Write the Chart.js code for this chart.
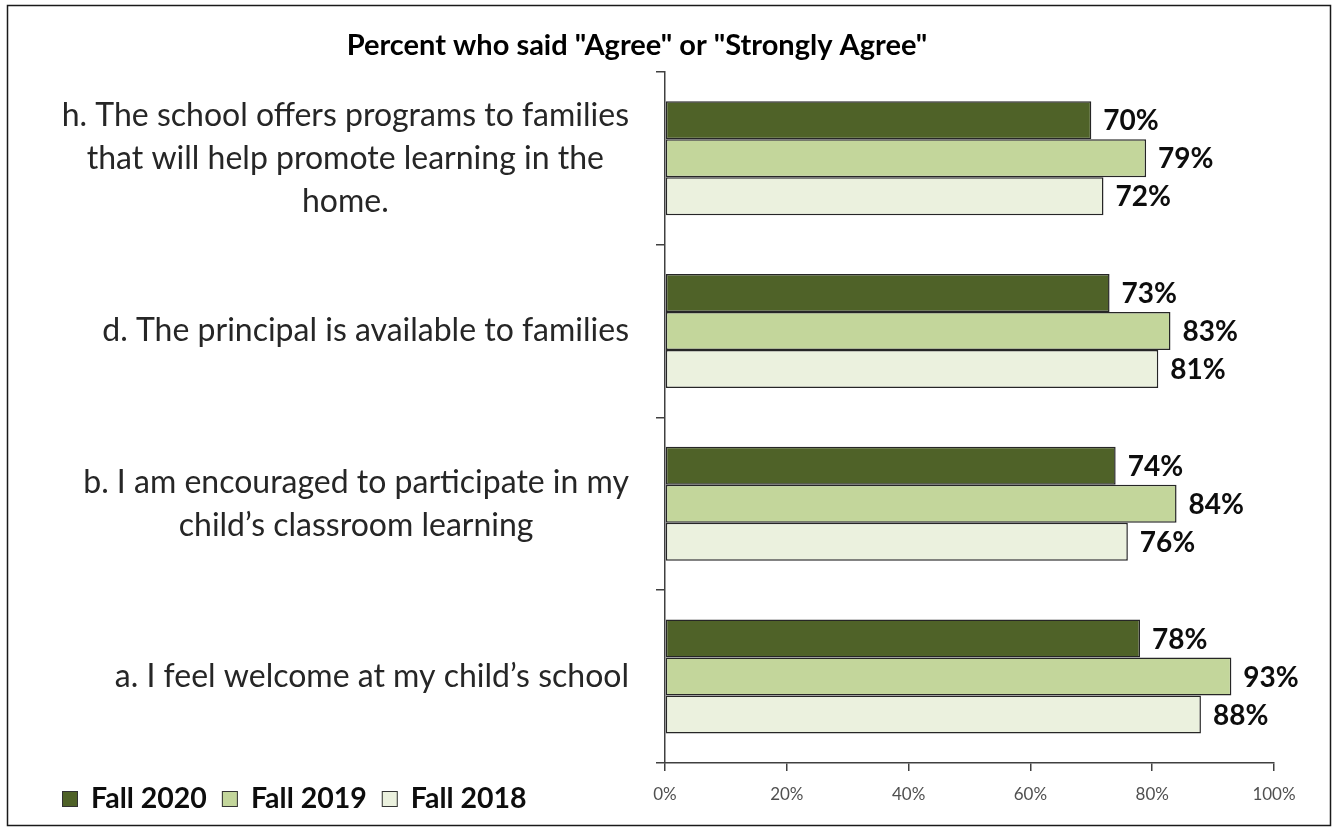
<!DOCTYPE html>
<html>
<head>
<meta charset="utf-8">
<script src="https://cdn.jsdelivr.net/npm/chart.js@4"></script>
<style>
  html, body { margin: 0; padding: 0; background: #fff; }
  canvas { display: block; }
</style>
</head>
<body>
<canvas id="surveyChart" width="1336" height="830"></canvas>
<script>
const categories = [
    ["h. The school offers programs to families", "that will help promote learning in the", "home."],
    ["d. The principal is available to families"],
    ["b. I am encouraged to participate in my", "child’s classroom learning"],
    ["a. I feel welcome at my child’s school"],
];
const seriesNames = ["Fall 2020", "Fall 2019", "Fall 2018"];
const fall2020 = [70, 73, 74, 78];
const fall2019 = [79, 83, 84, 93];
const fall2018 = [72, 81, 76, 88];
const xTicks = [0, 20, 40, 60, 80, 100];

const colors = ["#4F6228", "#C3D69B", "#EBF1DE"];
const FONT = "Lato, 'Open Sans', sans-serif";

// white background and outer frame
const frame = {
    id: "frame",
    beforeDraw(chart) {
        const ctx = chart.ctx;
        ctx.save();
        ctx.fillStyle = "#fff";
        ctx.fillRect(0, 0, chart.width, chart.height);
        ctx.restore();
    },
    afterDraw(chart) {
        const ctx = chart.ctx;
        ctx.save();
        ctx.strokeStyle = "#1a1a1a";
        ctx.lineWidth = 1.5;
        ctx.strokeRect(7.5, 5.5, 1323, 820);
        ctx.restore();
    },
};

// wrapped category text, block right aligned, lines centred
const categoryLabels = {
    id: "categoryLabels",
    afterDraw(chart) {
        const ctx = chart.ctx;
        const y = chart.scales.y;
        const right = y.right - 36;
        const lineH = 43;
        ctx.save();
        ctx.font = "32px " + FONT;
        ctx.fillStyle = "#262626";
        ctx.textAlign = "center";
        ctx.textBaseline = "middle";
        categories.forEach((lines, i) => {
            const yc = y.getPixelForValue(i);
            const w = Math.max(...lines.map((l) => ctx.measureText(l).width));
            const cx = right - w / 2;
            lines.forEach((l, j) => {
                ctx.fillText(l, cx, yc + (j - (lines.length - 1) / 2) * lineH);
            });
        });
        ctx.restore();
    },
};

// percent values at the end of each bar
const valueLabels = {
    id: "valueLabels",
    afterDatasetsDraw(chart) {
        const ctx = chart.ctx;
        ctx.save();
        ctx.font = "bold 28px " + FONT;
        ctx.fillStyle = "#0d0d0d";
        ctx.textAlign = "left";
        ctx.textBaseline = "middle";
        chart.data.datasets.forEach((ds, di) => {
            chart.getDatasetMeta(di).data.forEach((bar, i) => {
                ctx.fillText(ds.data[i] + "%", bar.x + 12, bar.y + 1);
            });
        });
        ctx.restore();
    },
};

// legend in the bottom left corner
const bottomLegend = {
    id: "bottomLegend",
    afterDraw(chart) {
        const ctx = chart.ctx;
        const yc = 799;
        let x = 62;
        ctx.save();
        ctx.font = "bold 28.5px " + FONT;
        ctx.textBaseline = "middle";
        ctx.textAlign = "left";
        chart.data.datasets.forEach((ds) => {
            ctx.fillStyle = ds.backgroundColor;
            ctx.fillRect(x, yc - 8, 16, 16);
            ctx.strokeStyle = "#333";
            ctx.lineWidth = 1;
            ctx.strokeRect(x + 0.5, yc - 7.5, 15, 15);
            ctx.fillStyle = "#0d0d0d";
            ctx.fillText(ds.label, x + 29, yc);
            x += 29 + ctx.measureText(ds.label).width + 15;
        });
        ctx.restore();
    },
};

const ctx = document.getElementById("surveyChart").getContext("2d");

new Chart(ctx, {
    type: "bar",
    data: {
        labels: categories.map((c) => c.join(" ")),
        datasets: [
            { label: seriesNames[0], data: fall2020, backgroundColor: colors[0] },
            { label: seriesNames[1], data: fall2019, backgroundColor: colors[1] },
            { label: seriesNames[2], data: fall2018, backgroundColor: colors[2] },
        ].map((d) => ({
            ...d,
            borderColor: "#262626",
            borderWidth: 1.5,
            borderSkipped: false,
            categoryPercentage: 0.66,
            barPercentage: 1.0,
        })),
    },
    options: {
        indexAxis: "y",
        responsive: false,
        animation: false,
        layout: {
            padding: { top: 0, right: 62, bottom: 0, left: 0 },
        },
        scales: {
            x: {
                min: xTicks[0],
                max: xTicks[xTicks.length - 1],
                afterBuildTicks(scale) {
                    scale.ticks = xTicks.map((v) => ({ value: v }));
                },
                ticks: {
                    callback: (v) => v + "%",
                    color: "#505050",
                    font: { size: 17, family: FONT },
                    padding: 13,
                    maxRotation: 0,
                },
                grid: {
                    drawOnChartArea: false,
                    tickLength: 8,
                    color: "#404040",
                    lineWidth: 1.5,
                },
                border: { color: "#404040", width: 1.5 },
                afterFit(scale) {
                    scale.height = 67;
                },
            },
            y: {
                ticks: { display: false },
                grid: {
                    drawOnChartArea: false,
                    tickLength: 9,
                    color: "#404040",
                    lineWidth: 1.5,
                    offset: true,
                },
                border: { color: "#404040", width: 1.5 },
                afterFit(scale) {
                    scale.width = 665;
                },
            },
        },
        plugins: {
            legend: { display: false },
            tooltip: { enabled: false },
            title: {
                display: true,
                text: 'Percent who said "Agree" or "Strongly Agree"',
                color: "#000",
                font: { size: 29, weight: "bold", family: FONT },
                padding: { top: 28, bottom: 9 },
            },
        },
    },
    plugins: [frame, categoryLabels, valueLabels, bottomLegend],
});
</script>
</body>
</html>
